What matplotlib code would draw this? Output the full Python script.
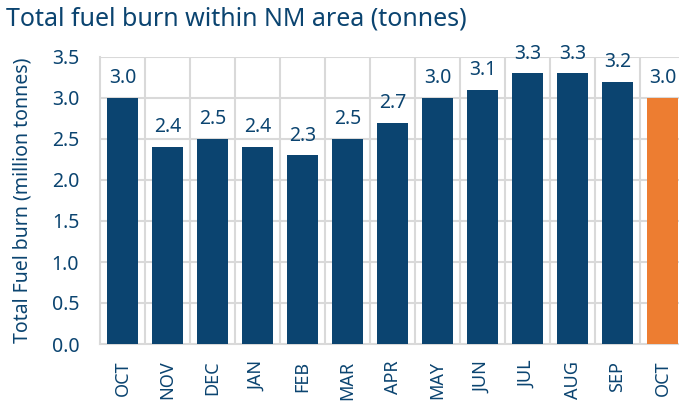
import matplotlib.pyplot as plt
import numpy as np

months = ['OCT', 'NOV', 'DEC', 'JAN', 'FEB', 'MAR', 'APR', 'MAY', 'JUN', 'JUL', 'AUG', 'SEP', 'OCT']
fuel = [3.0, 2.4, 2.5, 2.4, 2.3, 2.5, 2.7, 3.0, 3.1, 3.3, 3.3, 3.2, 3.0]
colors = ['#0b4470'] * 12 + ['#ed7d31']

txt = '#0b4470'
grid = '#d9d9d9'
plt.rcParams['font.family'] = ['Noto Sans', 'DejaVu Sans']

fig = plt.figure(figsize=(6.79, 4.01), dpi=100)
ax = fig.add_axes([100/679, 1 - 344/401, 585/679, 287/401])

x = np.arange(len(fuel))
bars = ax.bar(x, fuel, width=0.67, color=colors, zorder=3)
for b, v in zip(bars, fuel):
    ax.annotate(f'{v:.1f}', (b.get_x() + b.get_width()/2, v), xytext=(0, 7),
                textcoords='offset points', ha='center', va='bottom',
                fontsize=14, color=txt)

ax.set_xlim(-0.5, len(fuel) - 0.5)
ax.set_ylim(0, 3.5)
ax.set_yticks(np.arange(0, 3.51, 0.5))
ax.set_yticklabels([f'{t:.1f}' for t in np.arange(0, 3.51, 0.5)])
ax.set_xticks(x)
ax.set_xticklabels(months, rotation=90)
ax.tick_params(length=0, labelsize=14, labelcolor=txt)
ax.tick_params(axis='x', pad=12, labelsize=13)
ax.tick_params(axis='y', pad=15)

# grid: horizontal at ticks, vertical at category borders
for y in np.arange(0.5, 3.51, 0.5):
    ax.axhline(y, color=grid, lw=1.5, zorder=1)
for xb in np.arange(0.5, len(fuel), 1):
    ax.axvline(xb, color=grid, lw=1.5, zorder=1)
for s in ['top', 'right']:
    ax.spines[s].set_visible(False)
for s in ['left', 'bottom']:
    ax.spines[s].set_color(grid)
    ax.spines[s].set_linewidth(1.5)

ax.set_ylabel('Total Fuel burn (million tonnes)', fontsize=14, color=txt, labelpad=14)
fig.text(6/679, 1 - 19/401, 'Total fuel burn within NM area (tonnes)', fontsize=18,
         color=txt, va='center', ha='left')

fig.savefig('out.png', dpi=100)
